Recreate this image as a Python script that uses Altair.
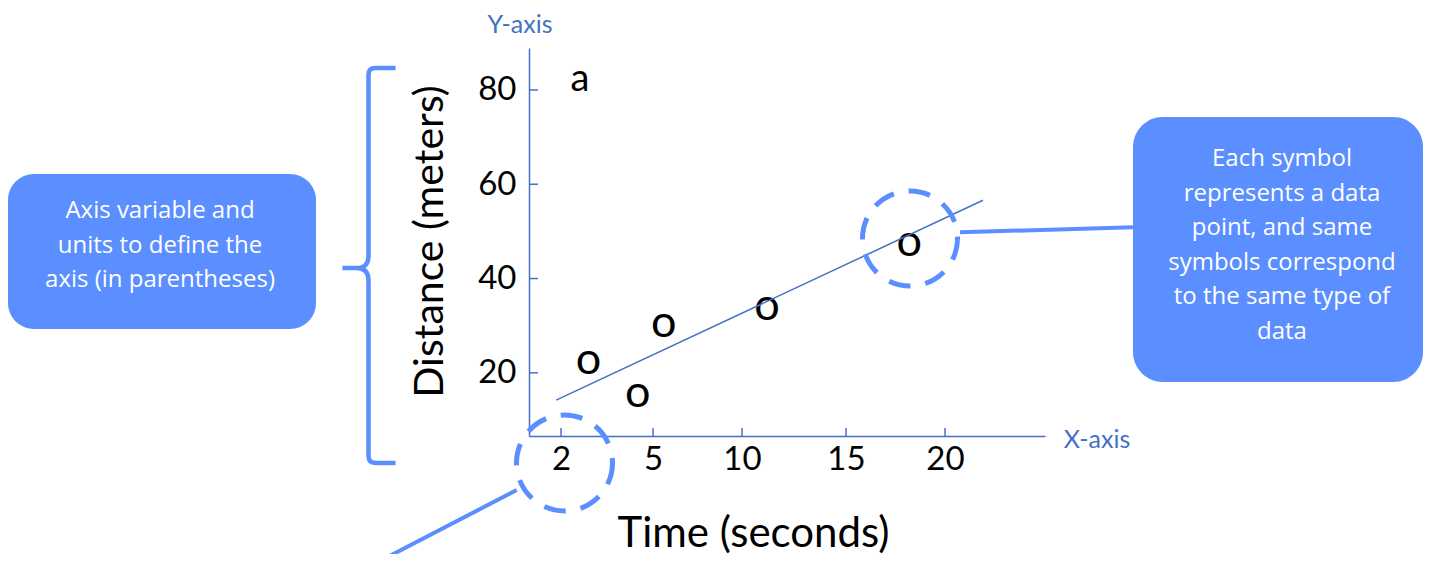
import altair as alt
import pandas as pd

# ---- data ----
time_s = [2.9, 4.5, 5.6, 11.2, 18.2]
distance_m = [22.7, 15.7, 30.6, 34.2, 47.8]
fit_time = [1.84, 21.9]
fit_dist = [14.2, 56.6]
x_ticks = [2, 5, 10, 15, 20]
y_ticks = [20, 40, 60, 80]
left_note = ["Axis variable and", "units to define the", "axis (in parentheses)"]
right_note = ["Each symbol", "represents a data", "point, and same",
              "symbols correspond", "to the same type of", "data"]

AXIS = "#4472C4"
CALL = "#5B8EFF"
FONT = "Lato"
BOXFONT = "Open Sans"

W, H = 516, 388

pts = pd.DataFrame({"t": time_s, "d": distance_m})
fit = pd.DataFrame({"t": fit_time, "d": fit_dist})
xt = pd.DataFrame({"t": x_ticks})
yt = pd.DataFrame({"d": y_ticks})
one = pd.DataFrame({"k": [0]})

xs = alt.Scale(domain=[0.95, 2, 5, 10, 15, 20, 25], range=[0, 32, 124, 213, 317, 416, 516],
               nice=False, zero=False)
ys = alt.Scale(domain=[6.6, 88.9], nice=False, zero=False)

x_axis = alt.Axis(values=x_ticks, ticks=False, grid=False, domainColor=AXIS, domainWidth=1.5,
                  labelFont=FONT, labelFontSize=33, labelColor="black", labelPadding=7,
                  title="Time (seconds)", titleFont=FONT, titleFontSize=42, titleFontWeight="normal",
                  titleColor="black", titleX=224, titleY=97, titleAlign="center",
                  titleBaseline="middle")
y_axis = alt.Axis(values=y_ticks, ticks=False, grid=False, domainColor=AXIS, domainWidth=1.5,
                  labelFont=FONT, labelFontSize=33, labelColor="black", labelPadding=13,
                  title="Distance (meters)", titleFont=FONT, titleFontSize=41,
                  titleFontWeight="normal", titleColor="black", titleAngle=270, titleX=-99,
                  titleY=193, titleAlign="center", titleBaseline="middle")

X = alt.X("t:Q", scale=xs, axis=x_axis)
Y = alt.Y("d:Q", scale=ys, axis=y_axis)

points = alt.Chart(pts).mark_text(text="o", font=FONT, fontSize=45, color="black",
                                  baseline="middle").encode(x=X, y=Y)

trend = alt.Chart(fit).mark_line(color=AXIS, strokeWidth=1.5).encode(x=X, y=Y)

xtick = alt.Chart(xt).mark_rule(color=AXIS, strokeWidth=1.5).encode(
    x=X, y=alt.value(H), y2=alt.value(H - 8))
ytick = alt.Chart(yt).mark_rule(color=AXIS, strokeWidth=1.5).encode(
    y=Y, x=alt.value(0), x2=alt.value(9))

base = alt.Chart(one)

panel_a = base.mark_text(text="a", font=FONT, fontSize=38, color="black",
                         baseline="middle").encode(x=alt.value(51), y=alt.value(32))
ylab = base.mark_text(text="Y-axis", font=FONT, fontSize=25, color=AXIS,
                      baseline="middle").encode(x=alt.value(-9), y=alt.value(-23))
xlab = base.mark_text(text="X-axis", font=FONT, fontSize=25, color=AXIS,
                      baseline="middle").encode(x=alt.value(568), y=alt.value(392))

brace_path = ("M 0.137 -1 L 0.035 -1 Q 0 -1 0 -0.965 L 0 -0.05 Q 0 0.013 -0.06 0.013 "
              "L -0.132 0.013 M -0.06 0.013 Q 0 0.013 0 0.076 L 0 0.965 Q 0 1 0.035 1 L 0.137 1")
brace = base.mark_point(shape=brace_path, size=395 * 395, filled=False, strokeWidth=4.5,
                        color=CALL, opacity=1).encode(x=alt.value(-160.5), y=alt.value(217.5))

box_l = base.mark_rect(cornerRadius=26, color=CALL).encode(
    x=alt.value(-521), x2=alt.value(-213), y=alt.value(126), y2=alt.value(281))
box_r = base.mark_rect(cornerRadius=30, color=CALL).encode(
    x=alt.value(604), x2=alt.value(894), y=alt.value(69), y2=alt.value(334))
txt_l = base.mark_text(font=BOXFONT, fontSize=24, color="white", align="center",
                       baseline="middle", lineHeight=34.5).encode(
    x=alt.value(-369), y=alt.value(163), text=alt.value(left_note))
txt_r = base.mark_text(font=BOXFONT, fontSize=24, color="white", align="center",
                       baseline="middle", lineHeight=34.5).encode(
    x=alt.value(753), y=alt.value(111), text=alt.value(right_note))

conn_r = base.mark_rule(color=CALL, strokeWidth=4).encode(
    x=alt.value(431), x2=alt.value(604), y=alt.value(184.3), y2=alt.value(179.3))
conn_l = base.mark_rule(color=CALL, strokeWidth=4).encode(
    x=alt.value(-12.3), x2=alt.value(-151), y=alt.value(442), y2=alt.value(514))

circ1 = base.mark_point(shape="circle", filled=False, size=96 * 96, strokeWidth=5,
                        strokeDash=[22, 15], color=CALL, opacity=1).encode(
    x=alt.value(35.5), y=alt.value(415))
circ2 = base.mark_point(shape="circle", filled=False, size=95 * 95, strokeWidth=5,
                        strokeDash=[22, 15], color=CALL, opacity=1).encode(
    x=alt.value(381), y=alt.value(190.5))

chart = alt.layer(
    points, trend, xtick, ytick, panel_a, ylab, xlab, brace,
    box_l, box_r, txt_l, txt_r, conn_r, conn_l, circ1, circ2,
).properties(
    width=W, height=H,
    autosize=alt.AutoSizeParams(type="none"),
    padding={"left": 521, "top": 40, "right": 378, "bottom": 118},
).configure_view(strokeWidth=0)

chart.save("out.html", embed_options={"renderer": "svg", "actions": False})
